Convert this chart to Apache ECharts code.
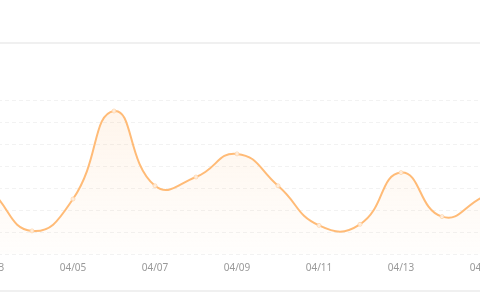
<!DOCTYPE html>
<html>
<head>
<meta charset="utf-8">
<script src="https://cdn.jsdelivr.net/npm/echarts@6/dist/echarts.min.js"></script>
<style>
html,body{margin:0;padding:0;background:#fff;overflow:hidden;width:480px;height:300px;}
#c{position:absolute;left:-9px;top:0;width:492px;height:300px;}
</style>
</head>
<body>
<div id="c"></div>
<script>
var categories = ['04/03','04/04','04/05','04/06','04/07','04/08','04/09','04/10','04/11','04/12','04/13','04/14','04/15'];
var values = [29, 10.5, 25, 65, 31, 35, 45.5, 31, 13, 13.5, 37, 17, 26];
var yTicks = [0, 10, 20, 30, 40, 50, 60, 70];

var LINE = '#ffbb77';
var SMOOTH = 0.5;

function buildCurve(pts) {
  var d = 'M' + pts[0][0] + ' ' + pts[0][1];
  var n = pts.length;
  function cps(i) {
    var p = pts[i];
    var prev = pts[Math.max(i - 1, 0)];
    var next = pts[Math.min(i + 1, n - 1)];
    var vx = next[0] - prev[0], vy = next[1] - prev[1];
    var lp = Math.hypot(p[0] - prev[0], p[1] - prev[1]);
    var ln = Math.hypot(next[0] - p[0], next[1] - p[1]);
    var r = (lp + ln) === 0 ? 0.5 : ln / (lp + ln);
    return {
      back: [p[0] - vx * SMOOTH * (1 - r), p[1] - vy * SMOOTH * (1 - r)],
      fwd: [p[0] + vx * SMOOTH * r, p[1] + vy * SMOOTH * r]
    };
  }
  for (var i = 0; i < n - 1; i++) {
    var a = cps(i).fwd, b = cps(i + 1).back, e = pts[i + 1];
    d += ' C' + a[0] + ' ' + a[1] + ' ' + b[0] + ' ' + b[1] + ' ' + e[0] + ' ' + e[1];
  }
  return d;
}

var chart = echarts.init(document.getElementById('c'), null, {renderer: 'canvas'});
chart.setOption({
  animation: false,
  grid: {left: 0, right: 0, top: 100, bottom: 46, containLabel: false, outerBoundsMode: 'none'},
  graphic: [
    {type: 'line', shape: {x1: 0, y1: 43, x2: 492, y2: 43}, style: {stroke: '#f0f0f0', lineWidth: 2}},
    {type: 'line', shape: {x1: 0, y1: 291, x2: 492, y2: 291}, style: {stroke: '#f0f0f0', lineWidth: 2}}
  ],
  xAxis: {
    type: 'category',
    data: categories,
    boundaryGap: false,
    axisLine: {show: false},
    axisTick: {show: false},
    axisLabel: {interval: 1, color: '#999', fontSize: 10, fontFamily: 'Noto Sans', margin: 9, hideOverlap: false}
  },
  yAxis: {
    type: 'value',
    min: yTicks[0],
    max: yTicks[yTicks.length - 1],
    interval: 10,
    axisLine: {show: false},
    axisTick: {show: false},
    axisLabel: {show: false},
    splitLine: {lineStyle: {color: '#f2f2f2', type: [4, 3], width: 1}}
  },
  series: [{
    type: 'custom',
    data: values,
    clip: false,
    renderItem: function (params, api) {
      if (params.dataIndex !== 0) return null;
      var pts = values.map(function (v, i) { return api.coord([i, v]); });
      var base = api.coord([0, yTicks[0]])[1];
      var curve = buildCurve(pts);
      var area = curve + ' L' + pts[pts.length - 1][0] + ' ' + base + ' L' + pts[0][0] + ' ' + base + ' Z';
      return {
        type: 'group',
        children: [
          {type: 'path', shape: {pathData: area}, style: {
            fill: new echarts.graphic.LinearGradient(0, 0, 0, 1, [
              {offset: 0, color: 'rgba(255,187,119,0.14)'},
              {offset: 1, color: 'rgba(255,187,119,0.02)'}
            ]), stroke: null}},
          {type: 'path', shape: {pathData: curve}, style: {fill: null, stroke: LINE, lineWidth: 2}}
        ]
      };
    }
  }, {
    type: 'scatter',
    data: values,
    symbol: 'circle',
    symbolSize: 4,
    itemStyle: {color: '#fff8f0', borderColor: '#ffd3a8', borderWidth: 1}
  }]
});
</script>
</body>
</html>
